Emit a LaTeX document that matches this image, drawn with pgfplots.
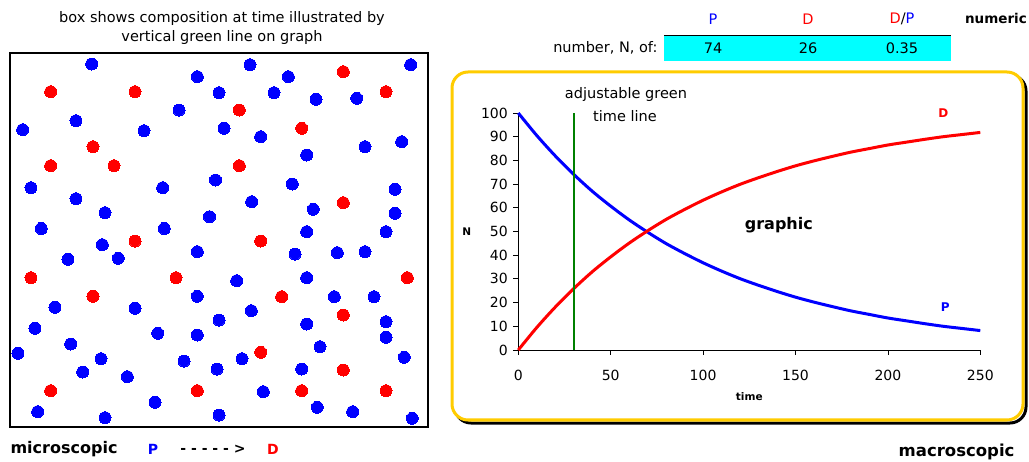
\documentclass[border=0pt]{standalone}
\usepackage{fontspec}
\setmainfont{DejaVu Sans}
\usepackage{pgfplots}
\pgfplotsset{compat=1.18}
\definecolor{pblue}{RGB}{0,0,255}
\definecolor{dred}{RGB}{255,0,0}
\definecolor{gold}{RGB}{255,204,0}
\definecolor{tcyan}{RGB}{0,255,255}
\definecolor{gline}{RGB}{0,128,0}

\begin{document}
\begin{tikzpicture}
\useasboundingbox (0pt,0pt) rectangle (1029pt,461pt);

% frame round the graph
\draw[black, line width=3pt, rounded corners=16pt] (455pt,38pt) rectangle (1026pt,386pt);
\draw[gold, fill=white, line width=3pt, rounded corners=16pt] (452pt,41pt) rectangle (1023pt,389pt);

% numeric table
\fill[tcyan] (664pt,400pt) rectangle (951pt,425pt);
\draw[black, line width=1pt] (664pt,425.5pt) -- (951pt,425.5pt);
\begin{scope}[every node/.style={font=\fontsize{14.5}{17}\selectfont}]
\node[pblue] at (713pt,442pt) {P};
\node[dred] at (808pt,442pt) {D};
\node at (902pt,442pt) {\textcolor{dred}{D}/\textcolor{pblue}{P}};
\node at (713pt,413pt) {74};
\node at (808pt,413pt) {26};
\node at (902pt,413pt) {0.35};
\node[anchor=east] at (661pt,413pt) {number, N, of:};
\node at (222pt,442pt) {box shows composition at time illustrated by};
\node at (222pt,423pt) {vertical green line on graph};
\node at (626pt,366pt) {adjustable green};
\node at (625pt,345pt) {time line};
\end{scope}
\node[font=\bfseries\fontsize{13.5}{16}\selectfont, anchor=east, inner sep=1pt] at (1028pt,443pt) {numeric};
\node[font=\bfseries\fontsize{16}{18}\selectfont, anchor=west] at (7pt,12pt) {microscopic};
\node[font=\bfseries\fontsize{14}{16}\selectfont, pblue] at (153pt,12pt) {P};
\node[font=\bfseries\fontsize{14}{16}\selectfont] at (213pt,12pt) {- - - - - >};
\node[font=\bfseries\fontsize{14}{16}\selectfont, dred] at (273pt,12pt) {D};
\node[font=\bfseries\fontsize{16.5}{18}\selectfont, anchor=east] at (1018pt,9pt) {macroscopic};

% microscopic box
\begin{axis}[
  at={(10pt,34pt)}, anchor=south west,
  width=418pt, height=374pt, scale only axis,
  xmin=10, xmax=428, ymin=53, ymax=427, y dir=reverse,
  ticks=none, axis line style={line width=2.5pt},
  clip=false,
]
\addplot[only marks, color=pblue, mark=*, mark size=6pt, mark options={draw=pblue, fill=pblue, line width=0pt}] coordinates {
(91.7,64)(197.3,76.7)(219,92.7)(179,110)(76,120.7)(22.7,129.7)(144,130.7)
(31,187.7)(162.7,187.7)(215.5,180)(76,198.7)(105,212.7)(209.5,216.7)
(41.3,228.5)(164.3,228.5)(102.3,244.7)(250,64.7)(288.3,76.7)(410.7,64.7)
(274,92.7)(316,99.3)(356.7,98.3)(224,128.3)(260.7,136.7)(365,146.7)
(401.7,141.7)(306.7,155)(292.3,184)(395,189.3)(251.7,201.7)(313.3,209.3)
(395,213.3)(306.7,231.7)(386,231.7)(68,259.3)(118.3,258.3)(197.3,251.7)
(197.3,296.3)(55,307.3)(135,308.3)(219,320)(35,328.3)(157.7,333.3)
(197.3,335)(70.7,344)(18,353.3)(101,358.7)(184,361)(217,369)(82.7,372)
(127.3,376.7)(155,402.3)(37.7,411.7)(105,417.7)(219,415)(295,254)
(337.3,252.7)(365,251.7)(236.7,280.7)(306.7,277.7)(334.3,296.7)(374,296.7)
(251.3,310.7)(306.7,324)(386,321.7)(386,337.3)(320,346.7)(242,358.7)
(404.3,357.3)(301.7,369)(263.3,391.7)(317.3,407.3)(352.7,411.7)(412.3,418.3)
};
\addplot[only marks, color=dred, mark=*, mark size=6pt, mark options={draw=dred, fill=dred, line width=0pt}] coordinates {
(50.7,91.7)(135,91.7)(93,146.7)(50.7,165.7)(114,165.7)(135,241)
(343.3,71.7)(386,91.7)(239.3,110)(301.7,128.3)(239.3,165.7)(343.3,202.7)
(260.7,241)(31,277.7)(176,277.7)(93,296.3)(50.7,390.7)(197.3,390.7)
(407.3,277.7)(281.7,296.7)(343.3,315)(260.7,352.3)(343.3,370)(301.7,390.7)
(386,390.7)
};
\end{axis}

% macroscopic graph
\begin{axis}[
  at={(518.3pt,111pt)}, anchor=south west,
  width=462pt, height=237pt, scale only axis,
  xmin=0, xmax=250, ymin=0, ymax=100,
  axis lines=left, axis line style={-, line width=0.8pt},
  xtick={0,50,...,250}, ytick={0,10,...,100},
  tick align=outside, major tick length=5pt,
  tick style={black, line width=0.8pt},
  /pgf/number format/assume math mode=true,
  ticklabel style={font=\fontsize{14}{16}\selectfont},
  yticklabel style={xshift=-2pt},
  xticklabel style={yshift=-12pt},
  xlabel={time}, xlabel style={font=\bfseries\fontsize{10.5}{12}\selectfont, yshift=-5pt},
  ylabel={N}, ylabel style={font=\bfseries\fontsize{10.5}{12}\selectfont, rotate=-90, xshift=-3pt},
  clip=false,
]
\addplot[pblue, line width=3pt, smooth] coordinates {
(0,100)(10,90.5)(20,81.9)(30,74.1)(40,67.0)(50,60.7)(60,54.9)(70,49.7)
(80,44.9)(90,40.7)(100,36.8)(110,33.3)(120,30.1)(130,27.3)(140,24.7)
(150,22.3)(160,20.2)(170,18.3)(180,16.5)(190,15.0)(200,13.5)(210,12.3)
(220,11.1)(230,10.0)(240,9.1)(250,8.2)
};
\addplot[dred, line width=3pt, smooth] coordinates {
(0,0)(10,9.5)(20,18.1)(30,25.9)(40,33.0)(50,39.3)(60,45.1)(70,50.3)
(80,55.1)(90,59.3)(100,63.2)(110,66.7)(120,69.9)(130,72.7)(140,75.3)
(150,77.7)(160,79.8)(170,81.7)(180,83.5)(190,85.0)(200,86.5)(210,87.7)
(220,88.9)(230,90.0)(240,90.9)(250,91.8)
};
\addplot[gline, line width=2pt] coordinates {(30,0)(30,100)};
\node[dred, font=\bfseries\fontsize{12}{14}\selectfont] at (axis cs:230,100) {D};
\node[pblue, font=\bfseries\fontsize{12}{14}\selectfont] at (axis cs:231,18) {P};
\node[font=\bfseries\fontsize{16}{18}\selectfont] at (axis cs:141,52.5) {graphic};
\end{axis}
\end{tikzpicture}
\end{document}
